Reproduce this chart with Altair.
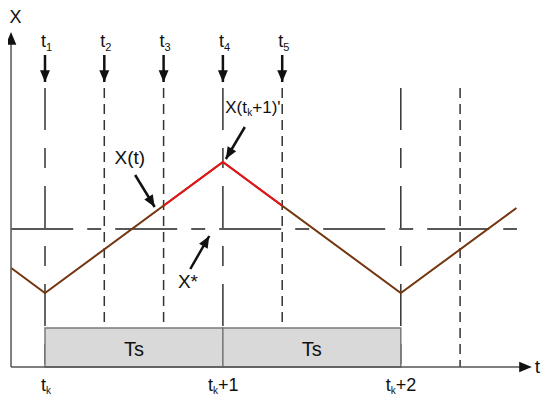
import math
import altair as alt
import pandas as pd

# ---- data (time in sampling steps, t1 = tk = 0; level in arbitrary units, t-axis = 0) ----
top_main = ["t", "t", "t", "t", "t"]
top_sub = ["1", "2", "3", "4", "5"]
top_t = [0, 1, 2, 3, 4]
dashdot_t = [0, 3, 6]          # tk, tk+1, tk+2
dashed_t = [1, 2, 4, 7]
line_top = 27.9

wave_t = [-0.57, 0, 3, 6, 7.95]
wave_x = [9.9, 7.4, 20.5, 7.4, 15.9]
red_t = [2, 3, 4]
red_x = [16.13, 20.5, 16.13]

x_star = 13.8
x_star_range = [-0.57, 7.96]

box_start = [0, 3]
box_end = [3, 6]
box_top = 3.9
ts_labels = ["Ts", "Ts"]
ts_t = [1.5, 4.5]
ts_level = 1.7

bottom_main = ["t", "t", "t"]
bottom_sub = ["k", "k", "k"]
bottom_suffix = ["", "+1", "+2"]
bottom_t = [0, 3, 6]
bottom_level = -2.4

y_axis_t = -0.573
y_axis_top = 32.4
y_axis_tip = 33.5
x_axis_end = 8.03
x_axis_tip = 8.21
t_label_t = 8.26
x_label_t = -0.6
x_label_level = 34.9

# annotation arrows: tail (t, level) -> tip (t, level)
arr_t0 = [0, 1, 2, 3, 4, 1.52, 2.45, 3.37]
arr_v0 = [31.2, 31.2, 31.2, 31.2, 31.2, 19.2, 9.8, 24.0]
arr_t1 = [0, 1, 2, 3, 4, 1.85, 2.77, 3.05]
arr_v1 = [28.5, 28.5, 28.5, 28.5, 28.5, 16.0, 13.1, 20.8]

ann_labels = ["X(t)", "X*"]
ann_t = [1.43, 2.41]
ann_v = [20.9, 8.5]
peak_parts = ["X(t", "k", "+1)'"]
peak_t = 3.04
peak_v = 25.9

# ---- layout ----
W, H = 534, 387
PX_T = 59.3
PX_V = 10.0
X0 = 37.0     # chart x of t = 0
Y0 = 359.0    # chart y of level = 0
xs = alt.Scale(domain=[-X0 / PX_T, (W - X0) / PX_T], nice=False, zero=False)
ys = alt.Scale(domain=[(Y0 - H) / PX_V, Y0 / PX_V], nice=False, zero=False)
FONT = "Liberation Sans Narrow, Liberation Sans, Arial, sans-serif"
INK = "#111111"


def X(f):
    return alt.X(f, type="quantitative", scale=xs, axis=None)


def Y(f):
    return alt.Y(f, type="quantitative", scale=ys, axis=None)


def txt(df, **kw):
    base = dict(font=FONT, color=INK, baseline="alphabetic")
    base.update(kw)
    return alt.Chart(df).mark_text(**base).encode(x=X("t"), y=Y("v"), text="label")


# vertical sample lines
vdd = pd.DataFrame({"t": dashdot_t, "v0": 0.0, "v1": line_top})
vds = pd.DataFrame({"t": dashed_t, "v0": 0.0, "v1": line_top})
l_dashdot = alt.Chart(vdd).mark_rule(color="#333333", strokeWidth=1.5, strokeDash=[42, 18, 20, 18]).encode(
    x=X("t"), y=Y("v1"), y2="v0")
l_dashed = alt.Chart(vds).mark_rule(color="#333333", strokeWidth=1.5, strokeDash=[10, 6]).encode(
    x=X("t"), y=Y("v1"), y2="v0")

# X* reference line
xs_df = pd.DataFrame({"t0": [x_star_range[0]], "t1": [x_star_range[1]], "v": [x_star]})
l_xstar = alt.Chart(xs_df).mark_rule(color="#222222", strokeWidth=1.5, strokeDash=[62, 14, 14, 14]).encode(
    x=X("t0"), x2="t1", y=Y("v"))

# boxes
bx = pd.DataFrame({"t0": box_start, "t1": box_end, "v0": 0.0, "v1": box_top})
l_box = alt.Chart(bx).mark_rect(fill="#d9d9d9", stroke="#7a7a7a", strokeWidth=1.5).encode(
    x=X("t0"), x2="t1", y=Y("v1"), y2="v0")
l_ts = txt(pd.DataFrame({"label": ts_labels, "t": ts_t, "v": ts_level}), fontSize=20, baseline="middle")

# wave
wv = pd.DataFrame({"t": wave_t, "v": wave_x, "i": range(len(wave_t))})
l_wave = alt.Chart(wv).mark_line(color="#74360f", strokeWidth=2).encode(x=X("t"), y=Y("v"), order="i")
rd = pd.DataFrame({"t": red_t, "v": red_x, "i": range(len(red_t))})
l_red = alt.Chart(rd).mark_line(color="#e8141a", strokeWidth=2).encode(x=X("t"), y=Y("v"), order="i")

# axes
ax = pd.DataFrame({"t0": [y_axis_t, y_axis_t], "t1": [y_axis_t, x_axis_end],
                   "v0": [0.0, 0.0], "v1": [y_axis_top, 0.0]})
l_axes = alt.Chart(ax).mark_rule(color="#555555", strokeWidth=1.5).encode(
    x=X("t0"), x2="t1", y=Y("v0"), y2="v1")
HEAD = "M0,0L-0.42,1L0.42,1Z"
axh = pd.DataFrame({"t": [y_axis_t, x_axis_tip], "v": [y_axis_tip, 0.0], "a": [0, 90]})
l_axh = alt.Chart(axh).mark_point(shape=HEAD, filled=True, color=INK, opacity=1, size=640,
                                   strokeWidth=0).encode(x=X("t"), y=Y("v"), angle=alt.Angle("a:Q", scale=None))

# annotation arrows
ar = pd.DataFrame({"t0": arr_t0, "v0": arr_v0, "t1": arr_t1, "v1": arr_v1})
ar["a"] = [
    math.degrees(math.atan2((b - a) * PX_T, (d - c) * PX_V)) % 360
    for a, b, c, d in zip(ar["t0"], ar["t1"], ar["v0"], ar["v1"])
]
l_shaft = alt.Chart(ar).mark_rule(color=INK, strokeWidth=2.5).encode(
    x=X("t0"), x2="t1", y=Y("v0"), y2="v1")
l_head = alt.Chart(ar).mark_point(shape=HEAD, filled=True, color=INK, opacity=1, size=560,
                                   strokeWidth=0).encode(x=X("t1"), y=Y("v1"), angle=alt.Angle("a:Q", scale=None))

# top sample labels t1..t5
l_top_main = txt(pd.DataFrame({"label": top_main, "t": top_t, "v": 32.0}), fontSize=18, align="right", dx=1)
l_top_sub = txt(pd.DataFrame({"label": top_sub, "t": top_t, "v": 32.0}), fontSize=11, align="left", dx=1, dy=4)

# bottom labels tk, tk+1, tk+2
b0 = pd.DataFrame({"main": bottom_main, "label": bottom_sub, "suffix": bottom_suffix,
                   "t": bottom_t, "v": bottom_level})
bk = b0[b0["suffix"] == ""]
bn = b0[b0["suffix"] != ""]
l_bk_main = txt(bk.assign(label=bk["main"]), fontSize=18, align="right", dx=1)
l_bk_sub = txt(bk, fontSize=10, align="left", dx=1, dy=3)
l_bn_main = txt(bn.assign(label=bn["main"]), fontSize=18, align="right", dx=-10)
l_bn_sub = txt(bn, fontSize=10, align="left", dx=-10, dy=3)
l_bn_suf = txt(bn.assign(label=bn["suffix"]), fontSize=18, align="left", dx=-5)

# annotations
l_ann = txt(pd.DataFrame({"label": ann_labels, "t": ann_t, "v": ann_v}), fontSize=19, baseline="middle")
pk = lambda s: pd.DataFrame({"label": [s], "t": [peak_t], "v": [peak_v]})
l_pk1 = txt(pk(peak_parts[0]), fontSize=17, align="left", baseline="middle")
l_pk2 = txt(pk(peak_parts[1]), fontSize=10, align="left", baseline="middle", dx=22, dy=5)
l_pk3 = txt(pk(peak_parts[2]), fontSize=17, align="left", baseline="middle", dx=27)

# axis names
l_axX = txt(pd.DataFrame({"label": ["X"], "t": [x_label_t], "v": [x_label_level]}), fontSize=18,
            baseline="middle", align="left")
l_axT = txt(pd.DataFrame({"label": ["t"], "t": [t_label_t], "v": [0.0]}), fontSize=19, baseline="middle",
            align="left")

chart = alt.layer(
    l_dashdot, l_dashed, l_xstar, l_box, l_ts, l_wave, l_red, l_axes, l_axh,
    l_shaft, l_head, l_top_main, l_top_sub, l_bk_main, l_bk_sub, l_bn_main, l_bn_sub, l_bn_suf,
    l_ann, l_pk1, l_pk2, l_pk3, l_axX, l_axT
).properties(width=W, height=H, padding=0, autosize="none", background="white").configure_view(stroke=None)

chart.save("out.html", embed_options={"renderer": "svg", "actions": False})
